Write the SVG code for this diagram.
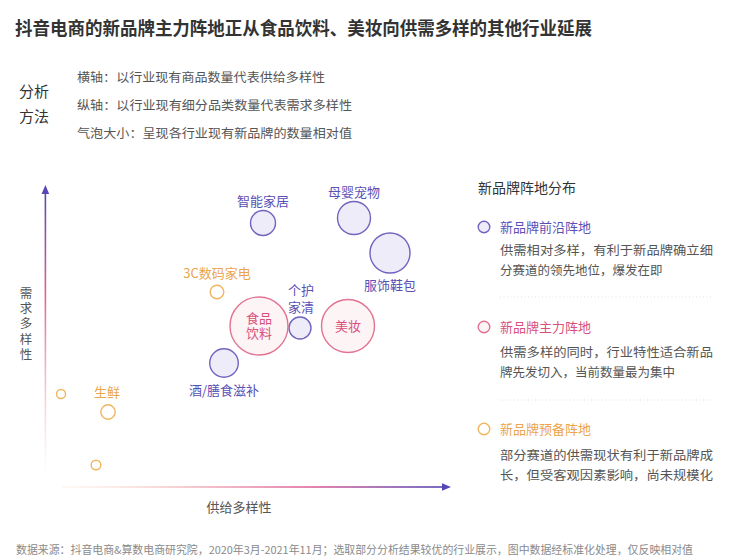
<svg xmlns="http://www.w3.org/2000/svg" width="734" height="560" viewBox="0 0 734 560">
<style>
text{font-family:"Noto Sans CJK SC","Noto Sans",sans-serif;}
.title{font-size:18px;font-weight:700;fill:#333;}
.method{font-size:15px;fill:#333;}
.desc{font-size:12.5px;fill:#555;}
.axis-label{font-size:13px;fill:#555;}
.vlabel{font-size:12.5px;fill:#555;writing-mode:vertical-rl;letter-spacing:2.7px;}
.pl{font-size:13px;fill:#5b50b4;text-anchor:middle;}
.kl{font-size:13px;fill:#d9507a;text-anchor:middle;}
.ol{font-size:13px;fill:#eba54a;text-anchor:middle;}
.pb{fill:#edecf8;stroke:#7064c0;stroke-width:1.4;}
.kb{fill:#fdf4f6;stroke:#e27393;stroke-width:1.4;}
.ob{fill:#fff;stroke:#f0b560;stroke-width:1.4;}
.lh{font-size:14px;fill:#333;}
.lt{font-size:13px;}
.lb{font-size:12.5px;fill:#555;}
.sep{stroke:#e0e0e0;stroke-width:1;stroke-dasharray:1 2.5;}
.foot{font-size:11px;fill:#8a8a8a;}
</style>
<defs>
<linearGradient id="gy" x1="0" y1="1" x2="0" y2="0">
<stop offset="0" stop-color="#f7d9d0" stop-opacity="0"/>
<stop offset="0.35" stop-color="#f0bfc8"/>
<stop offset="0.65" stop-color="#e0608f"/>
<stop offset="1" stop-color="#5548b6"/>
</linearGradient>
<linearGradient id="gx" x1="0" y1="0" x2="1" y2="0">
<stop offset="0" stop-color="#fbe3d6" stop-opacity="0.3"/>
<stop offset="0.3" stop-color="#f4c6c8"/>
<stop offset="0.65" stop-color="#e0669a"/>
<stop offset="1" stop-color="#5548b6"/>
</linearGradient>
</defs>
<rect width="734" height="560" fill="#fff"/>
<text class="title" x="15" y="35" textLength="577" lengthAdjust="spacingAndGlyphs">抖音电商的新品牌主力阵地正从食品饮料、美妆向供需多样的其他行业延展</text>
<g id="method">
<text class="method" x="19" y="97">分析</text>
<text class="method" x="19" y="122">方法</text>
<text class="desc" x="77" y="82" textLength="248" lengthAdjust="spacingAndGlyphs">横轴：以行业现有商品数量代表供给多样性</text>
<text class="desc" x="77" y="110" textLength="275" lengthAdjust="spacingAndGlyphs">纵轴：以行业现有细分品类数量代表需求多样性</text>
<text class="desc" x="77" y="138" textLength="275" lengthAdjust="spacingAndGlyphs">气泡大小：呈现各行业现有新品牌的数量相对值</text>
</g>
<g id="connectors">
<rect x="44.6" y="192" width="1.6" height="285" fill="url(#gy)"/>
<polygon points="45.4,185 41.6,194 49.2,194" fill="#5548b6"/>
<rect x="62" y="486.2" width="382" height="1.6" fill="url(#gx)"/>
<polygon points="451,487 442,483.2 442,490.8" fill="#5548b6"/>
</g>
<g id="axis-labels">
<text class="axis-label" x="239" y="512" text-anchor="middle">供给多样性</text>
<text class="vlabel" x="26" y="287">需求多样性</text>
</g>
<g id="node-smarthome"><circle class="pb" cx="263" cy="223" r="12.5"/><text class="pl" x="263" y="206">智能家居</text></g>
<g id="node-baby"><circle class="pb" cx="354" cy="218" r="16.5"/><text class="pl" x="354" y="197">母婴宠物</text></g>
<g id="node-apparel"><circle class="pb" cx="390" cy="253" r="20"/><text class="pl" x="390" y="290">服饰鞋包</text></g>
<g id="node-3c"><circle class="ob" cx="217" cy="292" r="6.8"/><text class="ol" x="217" y="278">3C数码家电</text></g>
<g id="node-personal"><circle class="pb" cx="300" cy="328" r="11"/><text class="pl" x="301" y="295">个护<tspan x="301" dy="17">家清</tspan></text></g>
<g id="node-food"><circle class="kb" cx="259" cy="326" r="29"/><text class="kl" x="259" y="323">食品<tspan x="259" dy="15">饮料</tspan></text></g>
<g id="node-beauty"><circle class="kb" cx="348" cy="326" r="26.5"/><text class="kl" x="348" y="331">美妆</text></g>
<g id="node-wine"><circle class="pb" cx="224" cy="363" r="14.3"/><text class="pl" x="224" y="395">酒/膳食滋补</text></g>
<g id="node-a"><circle class="ob" cx="61" cy="394" r="4.5"/></g>
<g id="node-fresh"><circle class="ob" cx="108" cy="412" r="7.2"/><text class="ol" x="107" y="397">生鲜</text></g>
<g id="node-b"><circle class="ob" cx="96" cy="465" r="4.8"/></g>
<g id="legend">
<text class="lh" x="478" y="193">新品牌阵地分布</text>
<circle cx="484" cy="227" r="5.8" fill="#edecf8" stroke="#7064c0" stroke-width="1.4"/>
<text class="lt" x="500" y="232" fill="#5b50b4">新品牌前沿阵地</text>
<text class="lb" x="500" y="255" textLength="213" lengthAdjust="spacingAndGlyphs">供需相对多样，有利于新品牌确立细</text>
<text class="lb" x="500" y="275">分赛道的领先地位，爆发在即</text>
<line class="sep" x1="500" y1="297" x2="713" y2="297"/>
<circle cx="484" cy="327" r="5.8" fill="#fdf4f6" stroke="#e27393" stroke-width="1.4"/>
<text class="lt" x="500" y="332" fill="#d9507a">新品牌主力阵地</text>
<text class="lb" x="500" y="357" textLength="213" lengthAdjust="spacingAndGlyphs">供需多样的同时，行业特性适合新品</text>
<text class="lb" x="500" y="377">牌先发切入，当前数量最为集中</text>
<line class="sep" x1="500" y1="400" x2="713" y2="400"/>
<circle cx="484" cy="429" r="5.8" fill="#fff" stroke="#f0b560" stroke-width="1.4"/>
<text class="lt" x="500" y="434" fill="#eba54a">新品牌预备阵地</text>
<text class="lb" x="500" y="460" textLength="213" lengthAdjust="spacingAndGlyphs">部分赛道的供需现状有利于新品牌成</text>
<text class="lb" x="500" y="480" textLength="213" lengthAdjust="spacingAndGlyphs">长，但受客观因素影响，尚未规模化</text>
</g>
<text class="foot" x="16" y="554" textLength="677" lengthAdjust="spacingAndGlyphs">数据来源：抖音电商&amp;算数电商研究院，2020年3月-2021年11月；选取部分分析结果较优的行业展示，图中数据经标准化处理，仅反映相对值</text>
</svg>
